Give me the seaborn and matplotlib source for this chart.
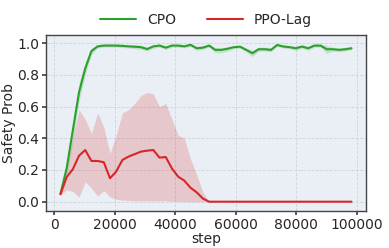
import numpy as np
import pandas as pd
import matplotlib
matplotlib.use("Agg")
import matplotlib.pyplot as plt
import seaborn as sns

steps = [2048 * k for k in range(1, 49)]

cpo_mean = [0.05, 0.21, 0.45, 0.69, 0.84, 0.95, 0.98, 0.985, 0.985, 0.985,
            0.983, 0.98, 0.978, 0.975, 0.963, 0.98, 0.985, 0.972, 0.985, 0.985,
            0.98, 0.99, 0.968, 0.972, 0.985, 0.958, 0.958, 0.965, 0.975, 0.978,
            0.958, 0.937, 0.962, 0.962, 0.958, 0.989, 0.979, 0.975, 0.968, 0.979,
            0.968, 0.985, 0.985, 0.962, 0.962, 0.958, 0.962, 0.968]
cpo_low = [0.04, 0.16, 0.38, 0.63, 0.80, 0.93, 0.97, 0.975, 0.975, 0.975,
           0.972, 0.97, 0.965, 0.962, 0.95, 0.968, 0.975, 0.96, 0.975, 0.975,
           0.97, 0.98, 0.955, 0.96, 0.975, 0.94, 0.94, 0.95, 0.965, 0.968,
           0.945, 0.915, 0.95, 0.95, 0.945, 0.98, 0.968, 0.965, 0.955, 0.968,
           0.955, 0.975, 0.975, 0.935, 0.95, 0.945, 0.95, 0.958]
cpo_high = [0.06, 0.26, 0.52, 0.75, 0.88, 0.97, 0.99, 0.995, 0.995, 0.995,
            0.993, 0.99, 0.99, 0.988, 0.975, 0.99, 0.995, 0.985, 0.995, 0.995,
            0.99, 0.998, 0.98, 0.985, 0.995, 0.972, 0.972, 0.978, 0.985, 0.988,
            0.97, 0.955, 0.975, 0.975, 0.97, 0.997, 0.99, 0.985, 0.98, 0.99,
            0.98, 0.995, 0.995, 0.985, 0.975, 0.97, 0.975, 0.978]

ppo_mean = [0.047, 0.155, 0.205, 0.29, 0.326, 0.257, 0.257, 0.249, 0.148, 0.19,
            0.263, 0.285, 0.30, 0.316, 0.322, 0.326, 0.278, 0.282, 0.21, 0.158,
            0.133, 0.088, 0.059, 0.02, 0.0, 0.0, 0.0, 0.0, 0.0, 0.0,
            0.0, 0.0, 0.0, 0.0, 0.0, 0.0, 0.0, 0.0, 0.0, 0.0,
            0.0, 0.0, 0.0, 0.0, 0.0, 0.0, 0.0, 0.0]
ppo_low = [0.04, 0.074, 0.065, 0.03, 0.126, 0.085, 0.035, 0.07, 0.03, 0.015,
           0.01, 0.008, 0.005, 0.005, 0.005, 0.005, 0.005, 0.005, 0.003, 0.002,
           0.0, 0.0, 0.0, 0.0, 0.0, 0.0, 0.0, 0.0, 0.0, 0.0,
           0.0, 0.0, 0.0, 0.0, 0.0, 0.0, 0.0, 0.0, 0.0, 0.0,
           0.0, 0.0, 0.0, 0.0, 0.0, 0.0, 0.0, 0.0]
ppo_high = [0.055, 0.22, 0.40, 0.58, 0.52, 0.43, 0.56, 0.47, 0.305, 0.42,
            0.56, 0.58, 0.62, 0.67, 0.69, 0.68, 0.60, 0.62, 0.52, 0.42,
            0.40, 0.27, 0.17, 0.06, 0.0, 0.0, 0.0, 0.0, 0.0, 0.0,
            0.0, 0.0, 0.0, 0.0, 0.0, 0.0, 0.0, 0.0, 0.0, 0.0,
            0.0, 0.0, 0.0, 0.0, 0.0, 0.0, 0.0, 0.0]

methods = ["CPO", "PPO-Lag"]
colors = {"CPO": "#2ca02c", "PPO-Lag": "#d62728"}

sns.set_theme(style="darkgrid")
plt.rcParams["font.family"] = ["DejaVu Sans"]

df = pd.DataFrame({
    "step": steps * 2,
    "Safety Prob": cpo_mean + ppo_mean,
    "method": ["CPO"] * len(steps) + ["PPO-Lag"] * len(steps),
})

fig = plt.figure(figsize=(3.89, 2.48), dpi=100)
ax = fig.add_axes([0.118, 0.149, 0.823, 0.710])
ax.set_facecolor("#eaeff6")

ax.fill_between(steps, cpo_low, cpo_high, color=colors["CPO"], alpha=0.2, linewidth=0)
ax.fill_between(steps, ppo_low, ppo_high, color=colors["PPO-Lag"], alpha=0.2, linewidth=0)
sns.lineplot(data=df, x="step", y="Safety Prob", hue="method", hue_order=methods,
             palette=colors, linewidth=1.5, ax=ax, legend=True)

ax.set_ylim(-0.059, 1.052)
ax.set_yticks([0.0, 0.2, 0.4, 0.6, 0.8, 1.0])
ax.set_xticks([0, 20000, 40000, 60000, 80000, 100000])
ax.grid(True, color="#cfd3da", linestyle="--", linewidth=0.6)
for s in ax.spines.values():
    s.set_visible(True)
    s.set_color("#444444")
    s.set_linewidth(1.0)
ax.tick_params(axis="both", labelsize=10, length=3, color="#444444", pad=2,
               bottom=True, left=True)
ax.set_xlabel("step", fontsize=10, labelpad=0)
ax.set_ylabel("Safety Prob", fontsize=10, labelpad=1)

leg = ax.legend(loc="lower center", bbox_to_anchor=(0.5, 1.0), ncol=2, frameon=False,
                fontsize=10, handlelength=2.6, columnspacing=2.2, borderaxespad=0.2)
for line in leg.get_lines():
    line.set_linewidth(1.5)

fig.savefig("out.png", dpi=100)
